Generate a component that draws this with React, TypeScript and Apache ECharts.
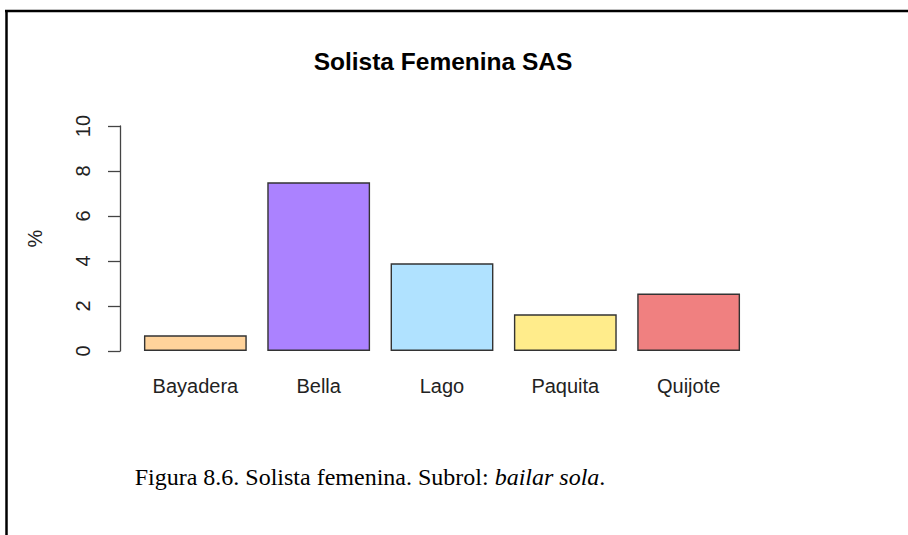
import React, { useEffect, useRef } from "react";
import * as echarts from "echarts";

const categories = ["Bayadera", "Bella", "Lago", "Paquita", "Quijote"];
const values = [0.7, 7.5, 3.9, 1.63, 2.55];
const barColors = ["#FFD39B", "#AB82FF", "#B0E2FF", "#FFEC8B", "#F08080"];
const yTicks = [0, 2, 4, 6, 8, 10];

const titleText = "Solista Femenina SAS";
const yName = "%";

export default function App() {
  const ref = useRef<HTMLDivElement>(null);
  useEffect(() => {
    if (!ref.current) return;
    const chart = echarts.init(ref.current, null, { renderer: "svg" });
    const sans = "'Liberation Sans', Arial, sans-serif";
    const serif = "'Liberation Serif', 'Times New Roman', serif";
    chart.setOption({
      animation: false,
      backgroundColor: "#ffffff",
      title: {
        text: titleText,
        left: 438,
        top: 44,
        textAlign: "center",
        textStyle: { fontFamily: sans, fontSize: 24.5, fontWeight: "bold", color: "#000" },
      },
      grid: { left: 133.7, right: 157.7, top: 126, bottom: 184, containLabel: false },
      xAxis: {
        type: "category",
        data: categories,
        axisLine: { show: false },
        axisTick: { show: false },
        axisLabel: { fontFamily: sans, fontSize: 20, color: "#222", margin: 25 },
      },
      yAxis: {
        type: "value",
        min: 0,
        max: yTicks[yTicks.length - 1],
        interval: 2,
        offset: 13.7,
        name: yName,
        nameLocation: "middle",
        nameGap: 75,
        nameRotate: 90,
        nameTextStyle: { fontFamily: sans, fontSize: 20, color: "#222" },
        axisLine: { show: true, lineStyle: { color: "#444", width: 1.3 } },
        axisTick: { show: true, length: 12, lineStyle: { color: "#444", width: 1.3 } },
        axisLabel: { rotate: 90, margin: 27, fontFamily: sans, fontSize: 20, color: "#222" },
        splitLine: { show: false },
      },
      series: [
        {
          type: "bar",
          barWidth: 102.8,
          data: values.map((v, i) => ({
            value: v,
            itemStyle: { color: barColors[i], borderColor: "#333", borderWidth: 1.4 },
          })),
        },
      ],
      graphic: [
        {
          type: "line",
          shape: { x1: 5, y1: 11, x2: 908, y2: 11 },
          style: { stroke: "#000", lineWidth: 2.5 },
        },
        {
          type: "line",
          shape: { x1: 6.5, y1: 10, x2: 6.5, y2: 535 },
          style: { stroke: "#000", lineWidth: 2.5 },
        },
        {
          type: "text",
          x: 370,
          y: 477,
          style: {
            text: "{n|Figura 8.6. Solista femenina. Subrol: }{i|bailar sola}{n|.}",
            align: "center",
            verticalAlign: "middle",
            rich: {
              n: { fontFamily: serif, fontSize: 24, fill: "#000" },
              i: { fontFamily: serif, fontSize: 24, fontStyle: "italic", fill: "#000" },
            },
          },
        },
      ],
    });
    return () => chart.dispose();
  }, []);
  return (
    <div
      ref={ref}
      style={{ position: "absolute", left: 0, top: 0, width: 908, height: 535 }}
    />
  );
}
